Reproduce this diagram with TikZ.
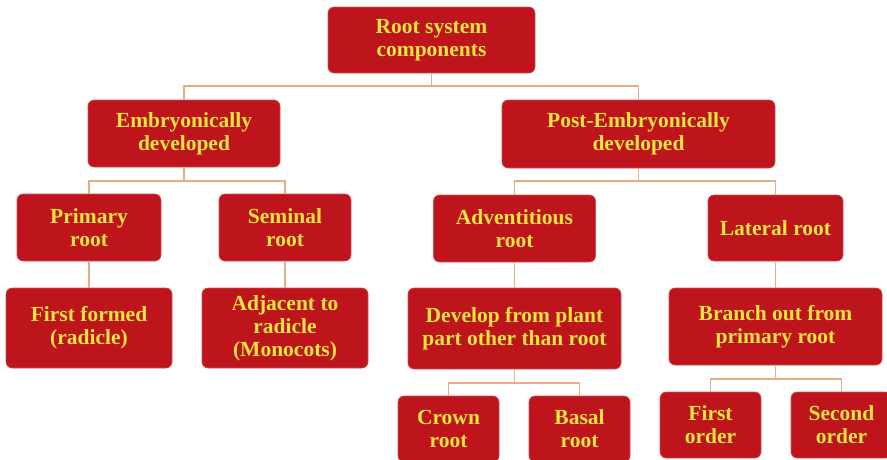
\documentclass[tikz,border=0pt]{standalone}
\usepackage{fontspec}
\setmainfont{Liberation Serif}
\usetikzlibrary{positioning}
\definecolor{boxred}{RGB}{190,20,28}
\definecolor{boxtext}{RGB}{234,228,62}
\definecolor{linkcol}{RGB}{232,172,132}
\tikzset{font=\bfseries\fontsize{21.5}{23}\selectfont}
\tikzset{rbox/.style 2 args={draw=boxred!75!white, line width=0.6pt, fill=boxred,
    text=boxtext, rounded corners=6pt, align=center, inner sep=0pt,
    minimum width=#1pt, minimum height=#2pt}}
\tikzset{link/.style={draw=linkcol, line width=1.3pt}}

\begin{document}
\begin{tikzpicture}[x=1pt,y=-1pt]
  \useasboundingbox (0,0) rectangle (887,459);

  \node[rbox={207}{66}] (root) at (431.5,40) {Root system\\components};
  \node[rbox={192}{67}] (emb) at (184,133.5) {Embryonically\\developed};
  \node[rbox={273}{68}] (post) at (638.5,134) {Post-Embryonically\\developed};

  \node[rbox={144}{67}] (prim) at (89,227.5) {Primary\\root};
  \node[rbox={132}{67}] (sem) at (285,227.5) {Seminal\\root};
  \node[rbox={162}{67}] (adv) at (514.5,228.5) {Adventitious\\root};
  \node[rbox={135}{66}] (lat) at (775.5,228) {Lateral root};

  \node[rbox={166}{80}] (first) at (89,328) {First formed\\(radicle)};
  \node[rbox={166}{80}] (adj) at (285,328) {Adjacent to\\radicle\\(Monocots)};
  \node[rbox={213}{81}] (dev) at (514.5,328.5) {Develop from plant\\part other than root};
  \node[rbox={213}{77}] (branch) at (775.5,326.5) {Branch out from\\primary root};

  \node[rbox={101}{66}] (crown) at (448.5,429) {Crown\\root};
  \node[rbox={101}{66}] (basal) at (579.5,429) {Basal\\root};
  \node[rbox={101}{66}] (ford) at (710.5,425) {First\\order};
  \node[rbox={101}{66}] (sord) at (841.5,425) {Second\\order};

  % junctions
  \coordinate (j1) at (431.5,86);
  \coordinate (j2) at (184,181);
  \coordinate (j3) at (638.5,181);
  \coordinate (j4) at (514.5,383);
  \coordinate (j5) at (775.5,379);

  \draw[link] (root.south) -- (j1);
  \draw[link] (j1) -| (emb.north);
  \draw[link] (j1) -| (post.north);
  \draw[link] (emb.south) -- (j2);
  \draw[link] (j2) -| (prim.north);
  \draw[link] (j2) -| (sem.north);
  \draw[link] (post.south) -- (j3);
  \draw[link] (j3) -| (adv.north);
  \draw[link] (j3) -| (lat.north);
  \draw[link] (prim.south) -- (first.north);
  \draw[link] (sem.south) -- (adj.north);
  \draw[link] (adv.south) -- (dev.north);
  \draw[link] (lat.south) -- (branch.north);
  \draw[link] (dev.south) -- (j4);
  \draw[link] (j4) -| (crown.north);
  \draw[link] (j4) -| (basal.north);
  \draw[link] (branch.south) -- (j5);
  \draw[link] (j5) -| (ford.north);
  \draw[link] (j5) -| (sord.north);
\end{tikzpicture}
\end{document}
